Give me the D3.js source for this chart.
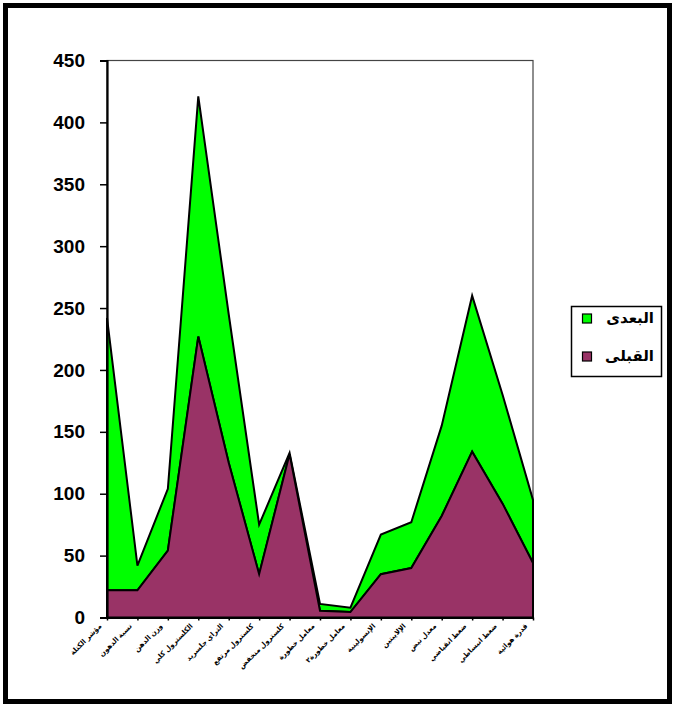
<!DOCTYPE html>
<html>
<head>
<meta charset="utf-8">
<script src="https://cdn.jsdelivr.net/npm/d3@7/dist/d3.min.js"></script>
<style>
  html, body { margin: 0; padding: 0; background: #fff; }
  svg { display: block; }
  text { font-family: "Liberation Sans", Arial, "DejaVu Sans", sans-serif; }
</style>
</head>
<body>
<svg id="chart" width="675" height="707"></svg>
<script>
// Measured items, in order along the horizontal axis
const categories = [
  "مؤشر الكتلة", "نسبة الدهون", "وزن الدهن", "الكلسترول كلي", "التراي جلسريد",
  "كلسترول مرتفع", "كلسترول منخفض", "معامل خطورة", "معامل خطورة٢", "الإنسولينية",
  "الإلايبتين", "معدل نبض", "ضغط انقباضي", "ضغط انبساطي", "قدرة هوائية"
];
// Pre-test values (bottom layer)
const preValues  = [22, 22, 54, 227, 125, 35, 132, 5.5, 4.4, 35, 40, 82, 134, 92, 44];
// Post-test values (stacked on top of the pre-test layer)
const postValues = [220, 20, 50, 194, 120, 40, 1, 5.5, 3.5, 32, 37, 73, 126, 88, 51];
const yTicks = [0, 50, 100, 150, 200, 250, 300, 350, 400, 450];

const seriesNames = ["القبلى", "البعدى"];
const seriesColors = { "القبلى": "#993366", "البعدى": "#00ff00" };

const svg = d3.select("#chart");

// Outer frame
svg.append("rect")
  .attr("x", 5.5).attr("y", 5.5).attr("width", 664).attr("height", 696)
  .attr("fill", "#fff").attr("stroke", "#000").attr("stroke-width", 5);

const plot = { left: 107, right: 533, top: 60.5, bottom: 617.5 };

const x = d3.scalePoint().domain(categories).range([plot.left, plot.right]);
const y = d3.scaleLinear().domain([0, 450]).range([plot.bottom, plot.top]);

// Plot area border
svg.append("rect")
  .attr("x", plot.left).attr("y", plot.top)
  .attr("width", plot.right - plot.left).attr("height", plot.bottom - plot.top)
  .attr("fill", "#fff").attr("stroke", "#444").attr("stroke-width", 1.2);

// Stacked areas
const rows = categories.map((c, i) => ({ cat: c, "القبلى": preValues[i], "البعدى": postValues[i] }));
const stack = d3.stack().keys(seriesNames);
const layers = stack(rows);

const area = d3.area()
  .x(d => x(d.data.cat))
  .y0(d => y(d[0]))
  .y1(d => y(d[1]));

svg.append("g").selectAll("path")
  .data(layers.slice().reverse())
  .join("path")
  .attr("d", area)
  .attr("fill", d => seriesColors[d.key])
  .attr("stroke", "#000")
  .attr("stroke-width", 2)
  .attr("stroke-linejoin", "miter");

// Y axis
const yAxis = d3.axisLeft(y).tickValues(yTicks).tickSize(7).tickPadding(15);
const gy = svg.append("g").attr("transform", `translate(${plot.left},0)`).call(yAxis);
gy.select(".domain").attr("stroke", "#000").attr("stroke-width", 2.2);
gy.selectAll(".tick line").attr("stroke", "#000").attr("stroke-width", 1.5);
gy.selectAll(".tick text")
  .attr("font-size", 19).attr("font-weight", "bold").attr("fill", "#000")
  .attr("font-family", "'Liberation Sans', Arial, sans-serif");

// X axis
const xAxis = d3.axisBottom(x).tickSize(3).tickSizeOuter(0).tickFormat("");
const gx = svg.append("g").attr("transform", `translate(0,${plot.bottom})`).call(xAxis);
gx.select(".domain").attr("stroke", "#000").attr("stroke-width", 2.2);
gx.selectAll(".tick line").attr("stroke", "#000").attr("stroke-width", 1.5);

// Rotated category labels
svg.append("g").selectAll("text")
  .data(categories)
  .join("text")
  .attr("transform", d => `translate(${x(d) - 5},${plot.bottom + 9}) rotate(-45)`)
  .attr("text-anchor", "end")
  .attr("font-size", 7)
  .attr("font-weight", "bold")
  .attr("fill", "#000")
  .text(d => d);

// Legend
const legend = svg.append("g");
legend.append("rect")
  .attr("x", 571.5).attr("y", 306.5).attr("width", 90).attr("height", 70)
  .attr("fill", "#fff").attr("stroke", "#000").attr("stroke-width", 1.5);

const legendItems = ["البعدى", "القبلى"];
legendItems.forEach((name, i) => {
  const cy = 318 + i * 38;
  legend.append("rect")
    .attr("x", 582.5).attr("y", cy - 4).attr("width", 9).attr("height", 9)
    .attr("fill", seriesColors[name]).attr("stroke", "#000").attr("stroke-width", 1.2);
  legend.append("text")
    .attr("x", 654).attr("y", cy + 5)
    .attr("text-anchor", "end")
    .attr("font-size", 15).attr("font-weight", "bold").attr("fill", "#000")
    .text(name);
});
</script>
</body>
</html>
